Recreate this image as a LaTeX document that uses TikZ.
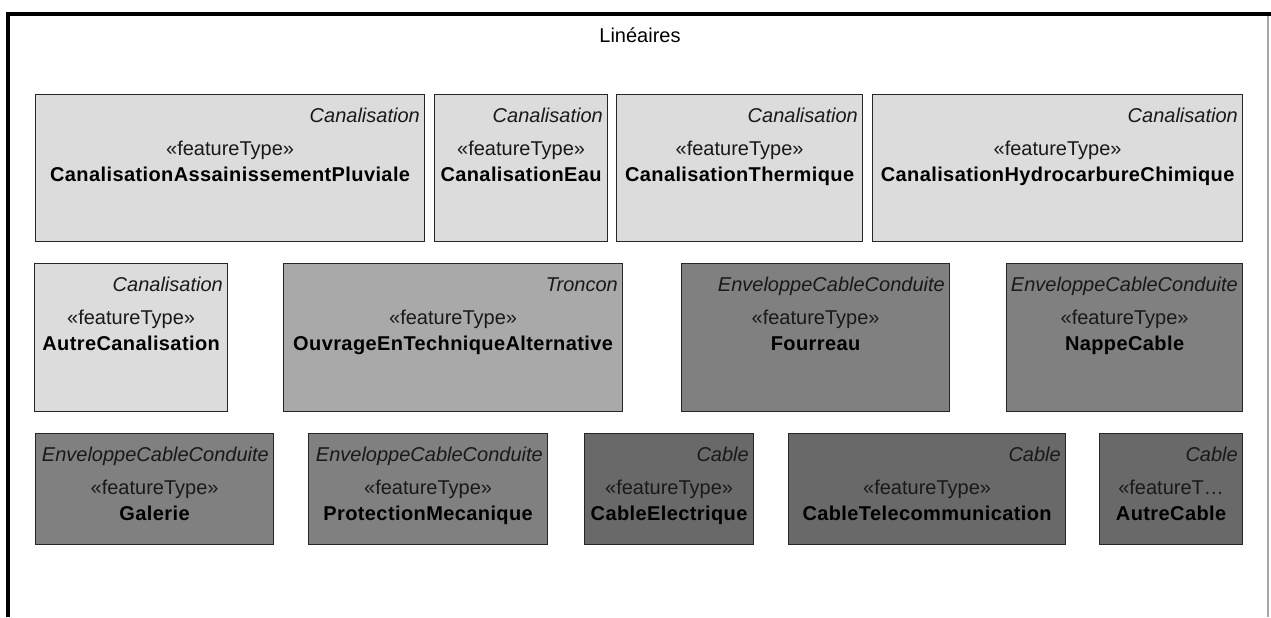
\documentclass[tikz,border=0pt]{standalone}
\usepackage{fontspec}
\setmainfont{Liberation Sans}
\newfontfamily\classfont[LetterSpace=2.0]{Liberation Sans}
\definecolor{canalfill}{HTML}{DCDCDC}
\definecolor{tronconfill}{HTML}{A9A9A9}
\definecolor{envfill}{HTML}{808080}
\definecolor{cablefill}{HTML}{696969}
\newcommand{\umlsize}{\fontsize{10}{12}\selectfont}
\tikzset{
  featbox/.style={draw=black!85, line width=0.6pt, inner sep=0pt, anchor=north west},
  parentlbl/.style={anchor=base east, inner sep=0pt, font=\umlsize\itshape, text=black!90},
  stereolbl/.style={anchor=base, inner sep=0pt, font=\umlsize, text=black!90},
  classlbl/.style={anchor=base, inner sep=0pt, font=\umlsize\classfont\bfseries},
}
% \featurebox{name}{x1}{y1}{x2}{y2}{fill}{parent}{stereotype}{class}
\newcommand{\featurebox}[9]{%
  \node[featbox, fill=#6, minimum width={(#4-#2)*0.5pt},
    minimum height={(#5-#3)*0.5pt}] (#1) at (#2,#3) {};
  \node[parentlbl] (#1-parent) at ([xshift=-2.5pt,yshift=-14pt]#1.north east) {#7};
  \node[stereolbl] (#1-stereo) at ([yshift=-30.5pt]#1.north) {#8};
  \node[classlbl] (#1-class) at ([yshift=-43.5pt]#1.north) {#9};
}
\begin{document}
\begin{tikzpicture}[x=0.5pt,y=-0.5pt]
\useasboundingbox (0,0) rectangle (1271,617);
% Package frame
\draw[black!35, line width=0.6pt] (1268,14) -- (1268,617);
\draw[line width=2pt] (8,617) coordinate (frame-bl) -- (8,14) coordinate (frame-tl) -- (1271,14) coordinate (frame-tr);
\node[font=\umlsize] (title) at (640,35) {Linéaires};
% First row: pipes
\featurebox{pluviale}{35}{94}{424}{241}{canalfill}{Canalisation}{«featureType»}{CanalisationAssainissementPluviale}
\featurebox{eau}{434}{94}{607}{241}{canalfill}{Canalisation}{«featureType»}{CanalisationEau}
\featurebox{thermique}{616}{94}{862}{241}{canalfill}{Canalisation}{«featureType»}{CanalisationThermique}
\featurebox{hydrocarbure}{872}{94}{1242}{241}{canalfill}{Canalisation}{«featureType»}{CanalisationHydrocarbureChimique}
% Second row
\featurebox{autrecanal}{34}{263}{227}{411}{canalfill}{Canalisation}{«featureType»}{AutreCanalisation}
\featurebox{ouvrage}{283}{263}{622}{411}{tronconfill}{Troncon}{«featureType»}{OuvrageEnTechniqueAlternative}
\featurebox{fourreau}{681}{263}{949}{411}{envfill}{EnveloppeCableConduite}{«featureType»}{Fourreau}
\featurebox{nappe}{1006}{263}{1242}{411}{envfill}{EnveloppeCableConduite}{«featureType»}{NappeCable}
% Third row: envelopes and cables
\featurebox{galerie}{35}{433}{273}{544}{envfill}{EnveloppeCableConduite}{«featureType»}{Galerie}
\featurebox{protection}{308}{433}{547}{544}{envfill}{EnveloppeCableConduite}{«featureType»}{ProtectionMecanique}
\featurebox{electrique}{584}{433}{753}{544}{cablefill}{Cable}{«featureType»}{CableElectrique}
\featurebox{telecom}{788}{433}{1065}{544}{cablefill}{Cable}{«featureType»}{CableTelecommunication}
\featurebox{autrecable}{1099}{433}{1242}{544}{cablefill}{Cable}{«featureT…}{AutreCable}
\end{tikzpicture}
\end{document}
